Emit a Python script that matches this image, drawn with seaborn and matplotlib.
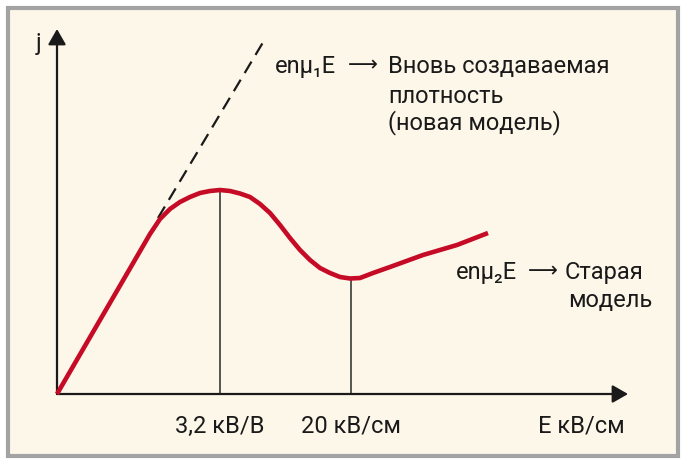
import matplotlib
matplotlib.use("Agg")
import matplotlib.pyplot as plt
import seaborn as sns
import pandas as pd
from matplotlib.patches import Rectangle

# curve data (arbitrary units)
E_curve = [0.0, 8.47, 9.3, 10.3, 11.3, 12.3, 13.3, 14.3, 15.3, 16.3, 17.3,
           18.3, 19.3, 20.3, 21.3, 22.3, 23.3, 24.3, 25.3, 26.3, 27.3, 28.3,
           29.3, 30.3, 31.6, 33.3, 36.6, 40.0, 43.1]
j_curve = [0.0, 14.57, 16.0, 17.5, 18.5, 19.2, 19.7, 20.1, 20.3, 20.4, 20.3,
           20.05, 19.7, 19.0, 18.1, 16.9, 15.6, 14.4, 13.4, 12.6, 12.1, 11.7,
           11.55, 11.6, 12.1, 12.7, 13.9, 14.9, 16.1]

# dashed extension of the linear part
E_dash = [10.1, 20.8]
j_dash = [17.6, 35.5]

# peak and minimum markers
mark_E = [16.3, 29.4]
mark_j = [20.4, 11.55]
mark_labels = ["3,2 кВ/В", "20 кВ/см"]

sns.set_theme(style="white")
fam = ["Roboto", "DejaVu Sans"]
plt.rcParams["font.family"] = fam

red = "#C50B26"
cream = "#FDF7E9"
ink = "#1a1a1a"
fs = 17

fig = plt.figure(figsize=(6.86, 4.62), dpi=100)
fig.patch.set_facecolor("white")

ax = fig.add_axes([0, 0, 1, 1])
ax.set_facecolor("none")
ax.set_xlim(-5.7, 62.9)
ax.set_ylim(-6.8, 39.4)
ax.axis("off")

# cream panel with grey frame
ax.add_patch(Rectangle((8 / 686, 6 / 462), 670 / 686, 448 / 462,
                       transform=fig.transFigure, facecolor=cream,
                       edgecolor="#A3A3A3", lw=3, zorder=-10, clip_on=False))

curve = pd.DataFrame({"E": E_curve, "j": j_curve})
dash = pd.DataFrame({"E": E_dash, "j": j_dash})

sns.lineplot(data=dash, x="E", y="j", sort=False, estimator=None, ax=ax,
             color=ink, lw=1.6, linestyle=(0, (6, 3.5)))
ax.vlines(mark_E, 0, mark_j, color="#2a2a2a", lw=1.1)
sns.lineplot(data=curve, x="E", y="j", sort=False, estimator=None, ax=ax,
             color=red, lw=3.3, zorder=5, solid_capstyle="butt",
             solid_joinstyle="round")

# axes with arrows
arrow = dict(arrowstyle="-|>,head_length=0.47,head_width=0.27",
             color=ink, lw=1.6, mutation_scale=20, shrinkA=0, shrinkB=0)
ax.annotate("", xy=(0, 36.5), xytext=(0, 0), arrowprops=arrow)
ax.annotate("", xy=(57.1, 0), xytext=(0, 0), arrowprops=arrow)

txt = dict(fontsize=fs, color=ink, family=fam, va="baseline")
for e, lab in zip(mark_E, mark_labels):
    ax.text(e, -3.9, lab, ha="center", **txt)
ax.text(56.8, -3.9, "E кВ/см", ha="right", **txt)
ax.text(-1.8, 34.4, "j", ha="center", **txt)

ax.text(21.8, 32.1, "enμ₁E", ha="left", **txt)
ax.text(30.6, 32.9, "⟶", ha="center", va="center", fontsize=15, color=ink,
        family=["DejaVu Sans"])
ax.text(33.1, 32.1, "Вновь создаваемая", ha="left", **txt)
ax.text(33.1, 29.1, "плотность", ha="left", **txt)
ax.text(33.1, 26.5, "(новая модель)", ha="left", **txt)

ax.text(39.9, 11.5, "enμ₂E", ha="left", **txt)
ax.text(48.6, 12.3, "⟶", ha="center", va="center", fontsize=15, color=ink,
        family=["DejaVu Sans"])
ax.text(50.8, 11.5, "Старая", ha="left", **txt)
ax.text(51.1, 8.7, "модель", ha="left", **txt)

fig.savefig("out.png", dpi=100, facecolor="white")
